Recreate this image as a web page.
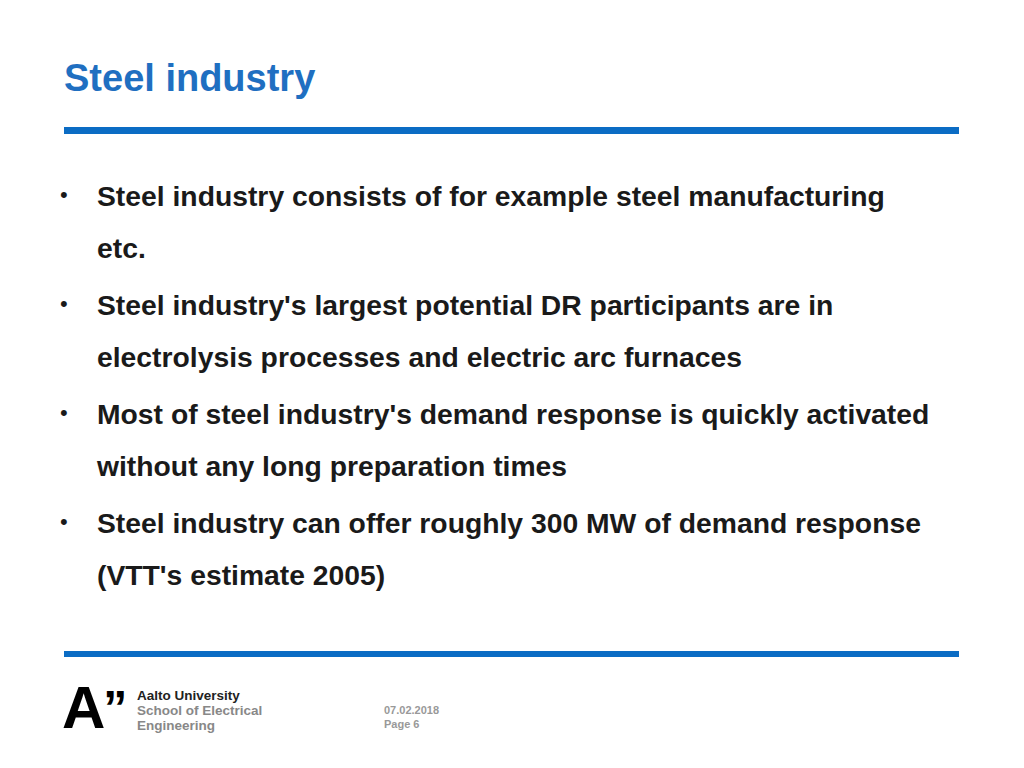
<!DOCTYPE html>
<html><head><meta charset="utf-8">
<script src="https://cdn.jsdelivr.net/npm/chart.js@4"></script>
<style>
body{margin:0;width:1024px;height:768px;background:#fff;font-family:"Liberation Sans",Arial,sans-serif;position:relative;overflow:hidden}
.abs{position:absolute;white-space:nowrap}
#title{left:64px;top:57px;font-size:38px;font-weight:bold;color:#1f6fc1}
.bar{position:absolute;left:64px;width:895px;background:#0b6cc4}
.b{font-size:28.3px;font-weight:bold;color:#1a1a1a}
.dot{font-size:22px;color:#1a1a1a}
.foot{font-size:11px;font-weight:bold;color:#999}
.logo{font-weight:bold;color:#000}
.uni{font-size:13.5px;font-weight:bold;line-height:16px}
</style></head><body>
<div id="title" class="abs"></div>
<div class="bar" style="top:127px;height:7px"></div>
<div class="bar" style="top:651px;height:6px"></div>
<div id="bullets"></div>
<div class="abs logo" style="left:62px;top:678px;font-size:60px;line-height:60px;letter-spacing:-2px">A<span style="font-size:48px;vertical-align:top">”</span></div>
<div class="abs uni" style="left:137px;top:688px;color:#222">Aalto University</div>
<div class="abs uni" style="left:137px;top:703px;color:#888">School of Electrical</div>
<div class="abs uni" style="left:137px;top:718px;color:#888">Engineering</div>
<div id="date" class="abs foot" style="left:384px;top:704px"></div>
<div id="page" class="abs foot" style="left:384px;top:718px"></div>
<script>
const titleText = "Steel industry";
const bulletLines = [
 ["Steel industry consists of for example steel manufacturing","etc."],
 ["Steel industry's largest potential DR participants are in","electrolysis processes and electric arc furnaces"],
 ["Most of steel industry's demand response is quickly activated","without any long preparation times"],
 ["Steel industry can offer roughly 300 MW of demand response","(VTT's estimate 2005)"]
];
const footerDate = "07.02.2018";
const footerPage = "Page 6";
document.getElementById('title').textContent = titleText;
document.getElementById('date').textContent = footerDate;
document.getElementById('page').textContent = footerPage;
const host = document.getElementById('bullets');
bulletLines.forEach((lines, i) => {
  const top0 = 180 + i * 109;
  const d = document.createElement('div'); d.className='abs dot'; d.style.left='60px'; d.style.top=(top0+2)+'px'; d.textContent='•'; host.appendChild(d);
  lines.forEach((t, j) => {
    const e = document.createElement('div'); e.className='abs b';
    e.style.left='97px'; e.style.top=(top0 + j*52)+'px'; e.textContent=t; host.appendChild(e);
  });
});
</script>
</body></html>
